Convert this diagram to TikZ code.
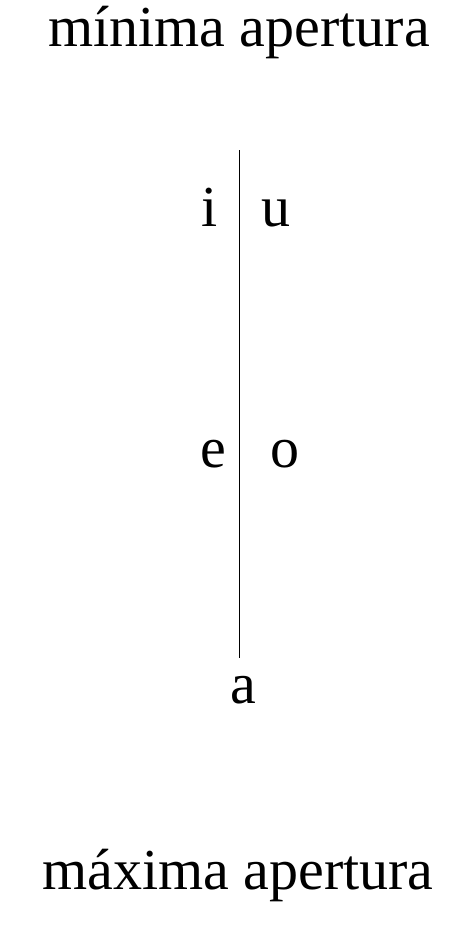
\documentclass[tikz,border=0pt]{standalone}
\usepackage{fontspec}
\setmainfont{Liberation Serif}
\begin{document}
\begin{tikzpicture}[x=1pt,y=-1pt,
  lbl/.style={inner sep=0pt,anchor=base,font=\fontsize{58}{62}\selectfont}]
\useasboundingbox (0,0) rectangle (450,929);
\node[lbl] (top) at (239,46) {mínima apertura};
\node[lbl] (bot) at (238,889) {máxima apertura};
\coordinate (l1) at (239,150);
\coordinate (l2) at (239,658);
\draw[line width=1pt] (l1) -- (l2);
\node[lbl] (i) at (210,226) {i};
\node[lbl] (u) at (276,226) {u};
\node[lbl] (e) at (213,467) {e};
\node[lbl] (o) at (285,467) {o};
\node[lbl] (a) at (243,703) {a};
\end{tikzpicture}
\end{document}
